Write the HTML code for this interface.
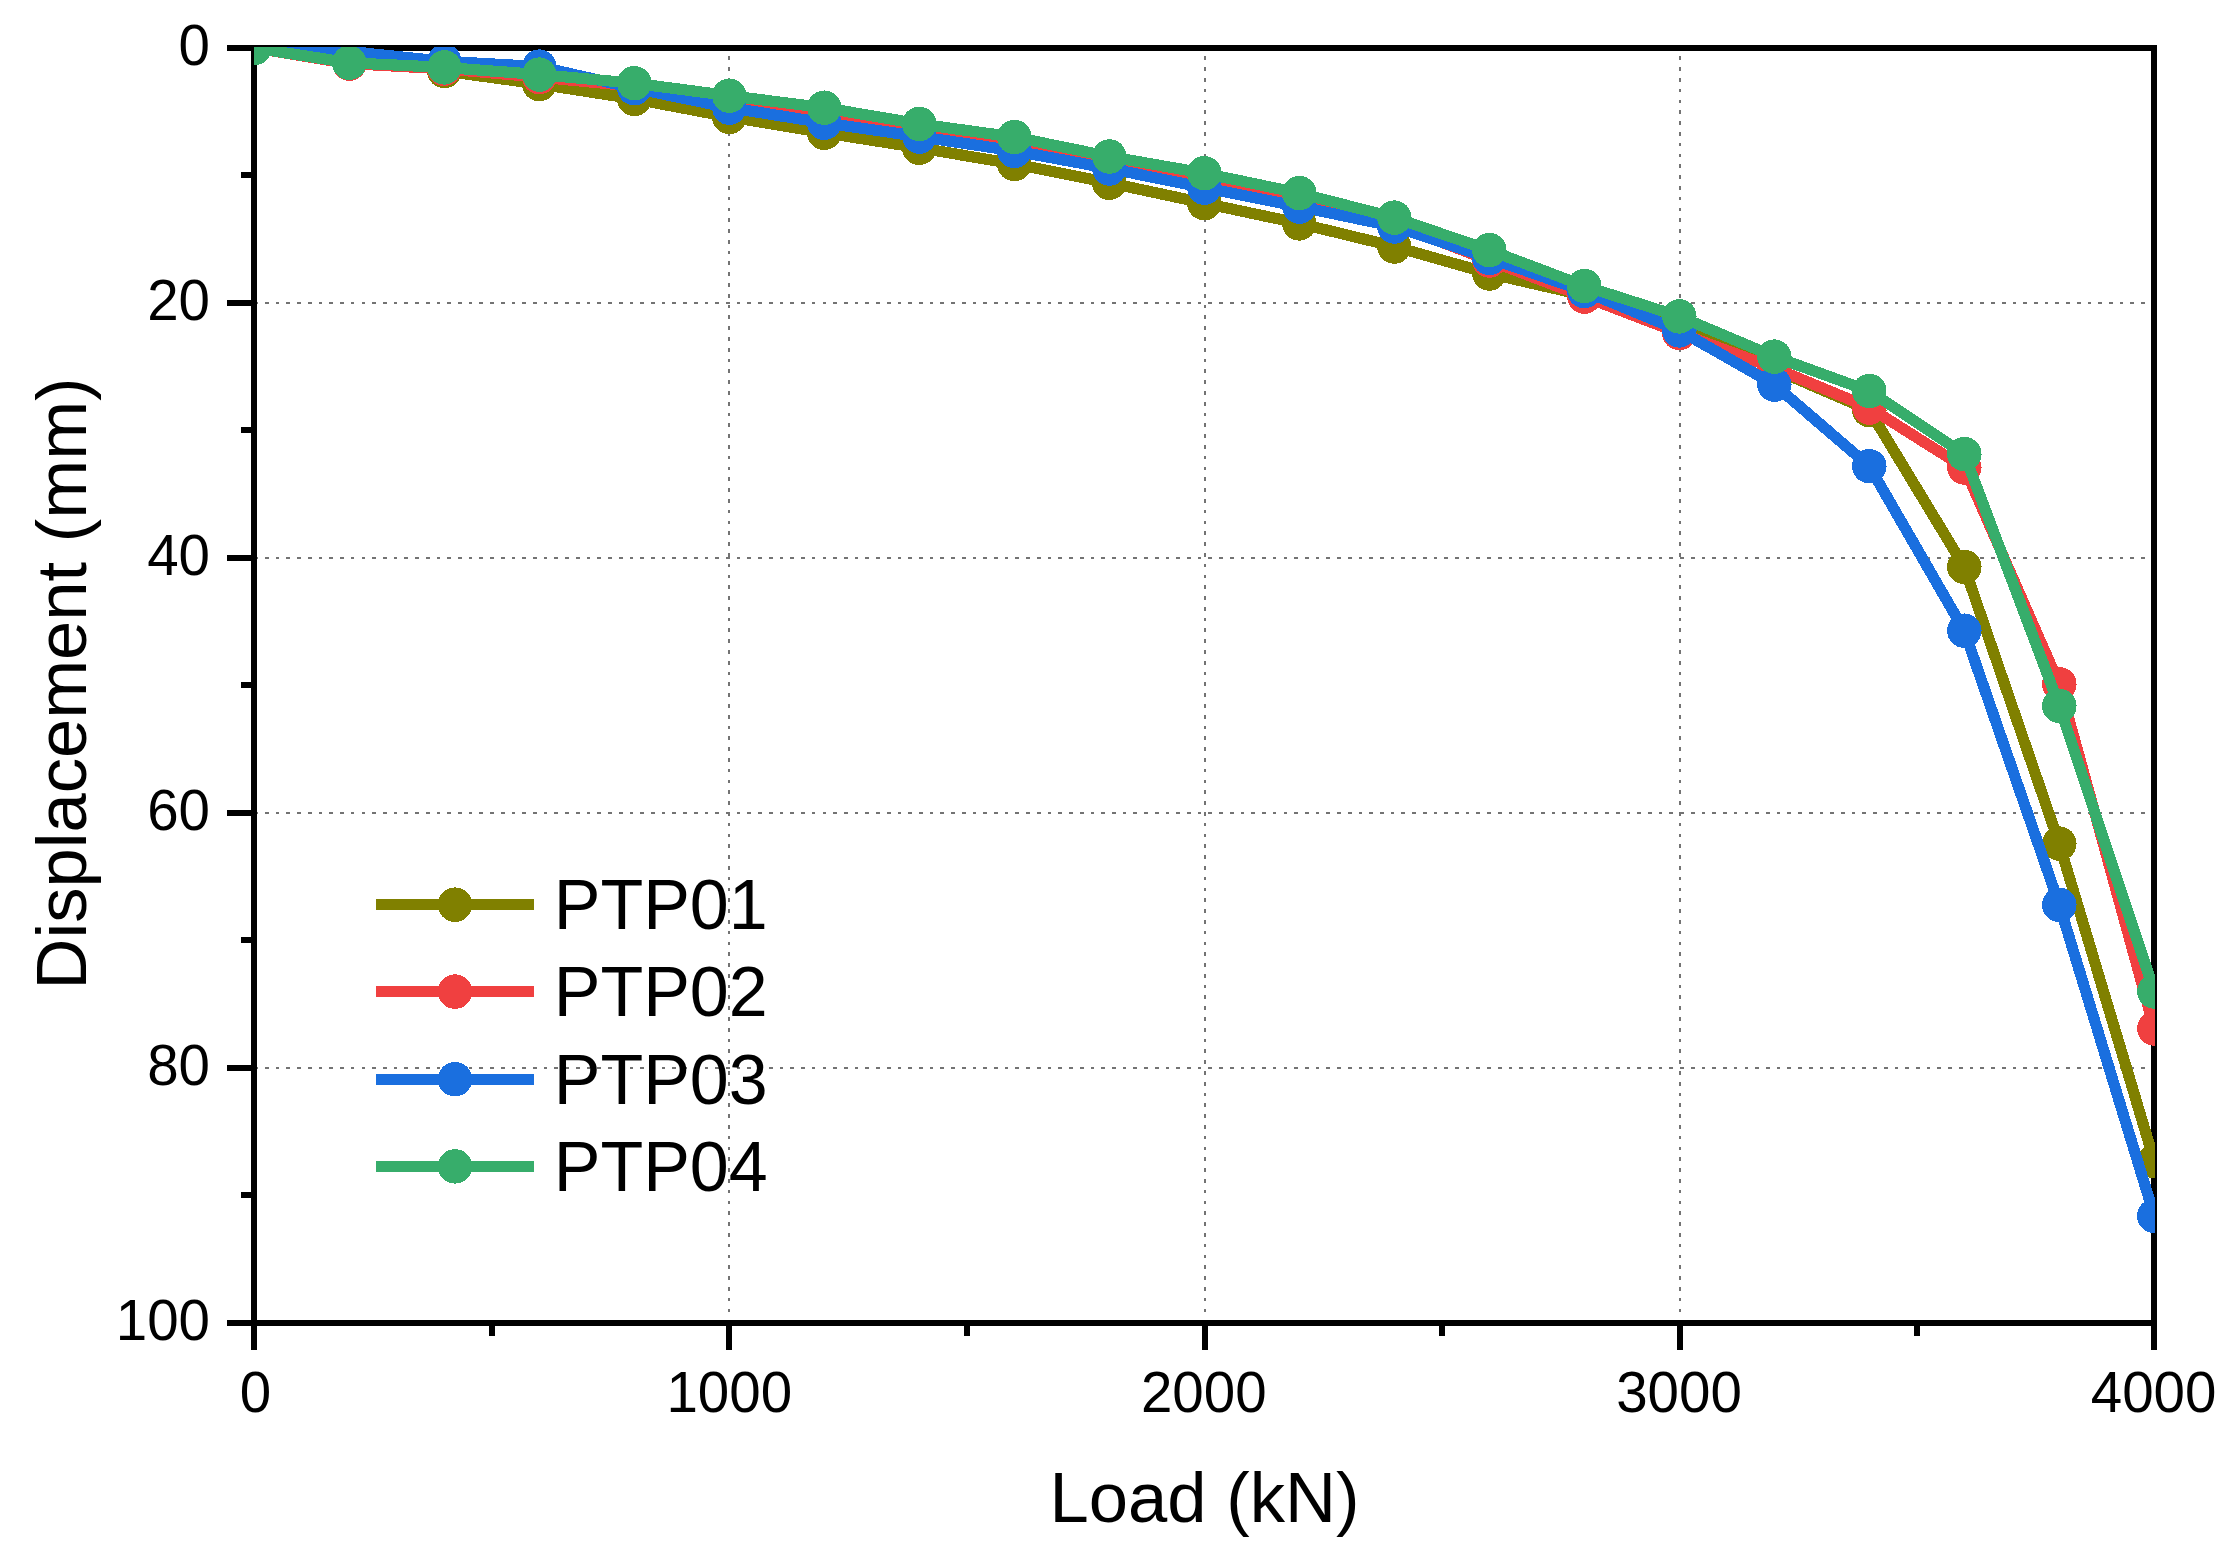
<!DOCTYPE html>
<html lang="en"><head><meta charset="utf-8"><title>Load - Displacement</title>
<style>html,body{margin:0;padding:0;background:#fff}body{width:2233px;height:1553px;overflow:hidden}svg{display:block}text{font-family:"Liberation Sans",sans-serif;fill:#000}</style></head><body>
<svg width="2233" height="1553" viewBox="0 0 2233 1553">
<rect width="2233" height="1553" fill="#fff"/>
<g stroke="#737373" stroke-width="2" stroke-dasharray="3.7 7.021" fill="none" shape-rendering="crispEdges">
<line x1="729" y1="1312.2" x2="729" y2="51" stroke-dasharray="3.7 7.094"/>
<line x1="1205" y1="1312.2" x2="1205" y2="51" stroke-dasharray="3.7 7.094"/>
<line x1="1680" y1="1312.2" x2="1680" y2="51" stroke-dasharray="3.7 7.094"/>
<line x1="254.3" y1="303.0" x2="2151" y2="303.0"/>
<line x1="254.3" y1="558.0" x2="2151" y2="558.0"/>
<line x1="254.3" y1="813.0" x2="2151" y2="813.0"/>
<line x1="254.3" y1="1068.0" x2="2151" y2="1068.0"/>
</g>
<g stroke="#000" stroke-width="6" fill="none" stroke-linecap="butt" shape-rendering="crispEdges">
<line x1="227" y1="48" x2="2157" y2="48"/>
<line x1="227" y1="1323" x2="2157" y2="1323"/>
<line x1="254" y1="45" x2="254" y2="1350"/>
<line x1="2154" y1="45" x2="2154" y2="1350"/>
<line x1="227" y1="303.0" x2="254" y2="303.0"/>
<line x1="227" y1="558.0" x2="254" y2="558.0"/>
<line x1="227" y1="813.0" x2="254" y2="813.0"/>
<line x1="227" y1="1068.0" x2="254" y2="1068.0"/>
<line x1="241" y1="175.0" x2="254" y2="175.0"/>
<line x1="241" y1="430.0" x2="254" y2="430.0"/>
<line x1="241" y1="685.0" x2="254" y2="685.0"/>
<line x1="241" y1="940.0" x2="254" y2="940.0"/>
<line x1="241" y1="1195.0" x2="254" y2="1195.0"/>
<line x1="729" y1="1323" x2="729" y2="1350"/>
<line x1="1205" y1="1323" x2="1205" y2="1350"/>
<line x1="1680" y1="1323" x2="1680" y2="1350"/>
<line x1="492" y1="1323" x2="492" y2="1336"/>
<line x1="967" y1="1323" x2="967" y2="1336"/>
<line x1="1442" y1="1323" x2="1442" y2="1336"/>
<line x1="1917" y1="1323" x2="1917" y2="1336"/>
</g>
<defs><clipPath id="pc"><rect x="254" y="47" width="1901" height="1277"/></clipPath></defs>
<g clip-path="url(#pc)" shape-rendering="crispEdges">
<polyline points="254.3,48.0 349.3,50.5 444.3,71.0 539.3,84.1 634.3,98.9 729.3,116.9 824.3,132.8 919.3,147.8 1014.3,164.0 1109.3,182.8 1204.3,203.2 1299.3,223.4 1394.3,246.5 1489.3,273.5 1584.3,295.4 1679.3,323.4 1774.3,369.3 1869.3,410.1 1964.3,566.9 2059.3,843.6 2154.3,1161.1" fill="none" stroke="#808000" stroke-width="11.2" stroke-linejoin="round"/>
<g fill="#808000"><circle cx="254.3" cy="48.0" r="17.25"/><circle cx="349.3" cy="50.5" r="17.25"/><circle cx="444.3" cy="71.0" r="17.25"/><circle cx="539.3" cy="84.1" r="17.25"/><circle cx="634.3" cy="98.9" r="17.25"/><circle cx="729.3" cy="116.9" r="17.25"/><circle cx="824.3" cy="132.8" r="17.25"/><circle cx="919.3" cy="147.8" r="17.25"/><circle cx="1014.3" cy="164.0" r="17.25"/><circle cx="1109.3" cy="182.8" r="17.25"/><circle cx="1204.3" cy="203.2" r="17.25"/><circle cx="1299.3" cy="223.4" r="17.25"/><circle cx="1394.3" cy="246.5" r="17.25"/><circle cx="1489.3" cy="273.5" r="17.25"/><circle cx="1584.3" cy="295.4" r="17.25"/><circle cx="1679.3" cy="323.4" r="17.25"/><circle cx="1774.3" cy="369.3" r="17.25"/><circle cx="1869.3" cy="410.1" r="17.25"/><circle cx="1964.3" cy="566.9" r="17.25"/><circle cx="2059.3" cy="843.6" r="17.25"/><circle cx="2154.3" cy="1161.1" r="17.25"/></g>
<polyline points="254.3,48.0 349.3,63.6 444.3,68.8 539.3,77.1 634.3,86.2 729.3,102.8 824.3,115.6 919.3,130.9 1014.3,144.9 1109.3,162.8 1204.3,181.9 1299.3,201.0 1394.3,224.0 1489.3,260.5 1584.3,296.6 1679.3,333.0 1774.3,368.0 1869.3,407.6 1964.3,467.5 2059.3,684.2 2154.3,1028.5" fill="none" stroke="#F04040" stroke-width="11.2" stroke-linejoin="round"/>
<g fill="#F04040"><circle cx="254.3" cy="48.0" r="17.25"/><circle cx="349.3" cy="63.6" r="17.25"/><circle cx="444.3" cy="68.8" r="17.25"/><circle cx="539.3" cy="77.1" r="17.25"/><circle cx="634.3" cy="86.2" r="17.25"/><circle cx="729.3" cy="102.8" r="17.25"/><circle cx="824.3" cy="115.6" r="17.25"/><circle cx="919.3" cy="130.9" r="17.25"/><circle cx="1014.3" cy="144.9" r="17.25"/><circle cx="1109.3" cy="162.8" r="17.25"/><circle cx="1204.3" cy="181.9" r="17.25"/><circle cx="1299.3" cy="201.0" r="17.25"/><circle cx="1394.3" cy="224.0" r="17.25"/><circle cx="1489.3" cy="260.5" r="17.25"/><circle cx="1584.3" cy="296.6" r="17.25"/><circle cx="1679.3" cy="333.0" r="17.25"/><circle cx="1774.3" cy="368.0" r="17.25"/><circle cx="1869.3" cy="407.6" r="17.25"/><circle cx="1964.3" cy="467.5" r="17.25"/><circle cx="2059.3" cy="684.2" r="17.25"/><circle cx="2154.3" cy="1028.5" r="17.25"/></g>
<polyline points="254.3,48.0 349.3,51.6 444.3,61.3 539.3,66.6 634.3,88.2 729.3,107.7 824.3,122.8 919.3,136.6 1014.3,150.9 1109.3,168.5 1204.3,187.7 1299.3,206.6 1394.3,226.5 1489.3,258.0 1584.3,291.1 1679.3,330.4 1774.3,384.6 1869.3,466.2 1964.3,630.7 2059.3,904.8 2154.3,1215.9" fill="none" stroke="#1A6FDF" stroke-width="11.2" stroke-linejoin="round"/>
<g fill="#1A6FDF"><circle cx="254.3" cy="48.0" r="17.25"/><circle cx="349.3" cy="51.6" r="17.25"/><circle cx="444.3" cy="61.3" r="17.25"/><circle cx="539.3" cy="66.6" r="17.25"/><circle cx="634.3" cy="88.2" r="17.25"/><circle cx="729.3" cy="107.7" r="17.25"/><circle cx="824.3" cy="122.8" r="17.25"/><circle cx="919.3" cy="136.6" r="17.25"/><circle cx="1014.3" cy="150.9" r="17.25"/><circle cx="1109.3" cy="168.5" r="17.25"/><circle cx="1204.3" cy="187.7" r="17.25"/><circle cx="1299.3" cy="206.6" r="17.25"/><circle cx="1394.3" cy="226.5" r="17.25"/><circle cx="1489.3" cy="258.0" r="17.25"/><circle cx="1584.3" cy="291.1" r="17.25"/><circle cx="1679.3" cy="330.4" r="17.25"/><circle cx="1774.3" cy="384.6" r="17.25"/><circle cx="1869.3" cy="466.2" r="17.25"/><circle cx="1964.3" cy="630.7" r="17.25"/><circle cx="2059.3" cy="904.8" r="17.25"/><circle cx="2154.3" cy="1215.9" r="17.25"/></g>
<polyline points="254.3,48.0 349.3,62.8 444.3,67.4 539.3,74.6 634.3,83.2 729.3,95.7 824.3,107.7 919.3,123.9 1014.3,137.0 1109.3,156.5 1204.3,173.2 1299.3,193.1 1394.3,217.6 1489.3,250.1 1584.3,286.0 1679.3,316.4 1774.3,356.6 1869.3,391.0 1964.3,454.1 2059.3,705.9 2154.3,991.5" fill="none" stroke="#37AD6B" stroke-width="11.2" stroke-linejoin="round"/>
<g fill="#37AD6B"><circle cx="254.3" cy="48.0" r="17.25"/><circle cx="349.3" cy="62.8" r="17.25"/><circle cx="444.3" cy="67.4" r="17.25"/><circle cx="539.3" cy="74.6" r="17.25"/><circle cx="634.3" cy="83.2" r="17.25"/><circle cx="729.3" cy="95.7" r="17.25"/><circle cx="824.3" cy="107.7" r="17.25"/><circle cx="919.3" cy="123.9" r="17.25"/><circle cx="1014.3" cy="137.0" r="17.25"/><circle cx="1109.3" cy="156.5" r="17.25"/><circle cx="1204.3" cy="173.2" r="17.25"/><circle cx="1299.3" cy="193.1" r="17.25"/><circle cx="1394.3" cy="217.6" r="17.25"/><circle cx="1489.3" cy="250.1" r="17.25"/><circle cx="1584.3" cy="286.0" r="17.25"/><circle cx="1679.3" cy="316.4" r="17.25"/><circle cx="1774.3" cy="356.6" r="17.25"/><circle cx="1869.3" cy="391.0" r="17.25"/><circle cx="1964.3" cy="454.1" r="17.25"/><circle cx="2059.3" cy="705.9" r="17.25"/><circle cx="2154.3" cy="991.5" r="17.25"/></g>
</g>
<g font-size="56.5px" text-anchor="end">
<text x="210" y="64.5">0</text>
<text x="210" y="319.5">20</text>
<text x="210" y="574.5">40</text>
<text x="210" y="829.5">60</text>
<text x="210" y="1084.5">80</text>
<text x="210" y="1339.5">100</text>
</g>
<g font-size="56.5px" text-anchor="middle">
<text x="255.5" y="1412.3">0</text>
<text x="729.3" y="1412.3">1000</text>
<text x="1203.8" y="1412.3">2000</text>
<text x="1679" y="1412.3">3000</text>
<text x="2153.6" y="1412.3">4000</text>
</g>
<text x="1204.5" y="1522" font-size="70.6px" text-anchor="middle">Load (kN)</text>
<text transform="translate(85.6 683.5) rotate(-90)" font-size="70.6px" text-anchor="middle">Displacement (mm)</text>
<line x1="376" y1="904.7" x2="534" y2="904.7" stroke="#808000" stroke-width="11.2" shape-rendering="crispEdges"/>
<circle cx="455" cy="904.7" r="17.25" fill="#808000" shape-rendering="crispEdges"/>
<text x="553.7" y="929.0" font-size="70px">PTP01</text>
<line x1="376" y1="991.6" x2="534" y2="991.6" stroke="#F04040" stroke-width="11.2" shape-rendering="crispEdges"/>
<circle cx="455" cy="991.6" r="17.25" fill="#F04040" shape-rendering="crispEdges"/>
<text x="553.7" y="1015.9" font-size="70px">PTP02</text>
<line x1="376" y1="1079.2" x2="534" y2="1079.2" stroke="#1A6FDF" stroke-width="11.2" shape-rendering="crispEdges"/>
<circle cx="455" cy="1079.2" r="17.25" fill="#1A6FDF" shape-rendering="crispEdges"/>
<text x="553.7" y="1103.5" font-size="70px">PTP03</text>
<line x1="376" y1="1166.4" x2="534" y2="1166.4" stroke="#37AD6B" stroke-width="11.2" shape-rendering="crispEdges"/>
<circle cx="455" cy="1166.4" r="17.25" fill="#37AD6B" shape-rendering="crispEdges"/>
<text x="553.7" y="1190.7" font-size="70px">PTP04</text>
</svg></body></html>
